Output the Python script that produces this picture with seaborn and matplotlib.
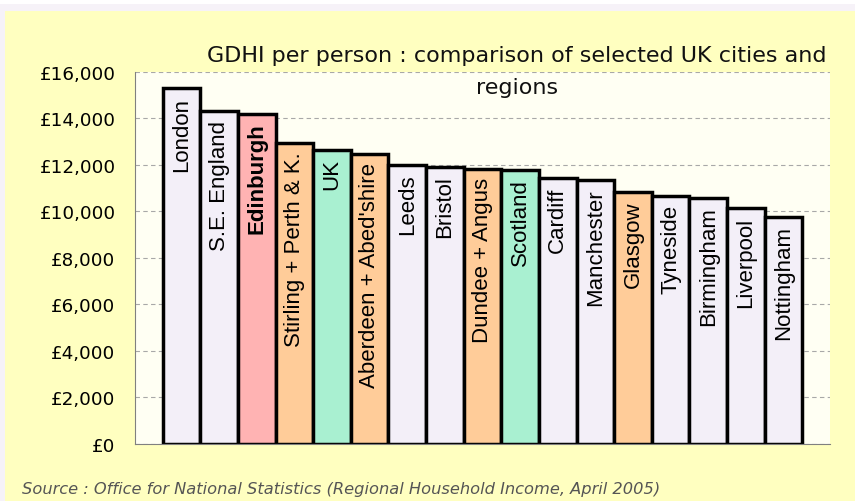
import matplotlib
matplotlib.use("Agg")
import matplotlib.pyplot as plt
import matplotlib.patches as mpatches
import seaborn as sns

# GDHI per person, UK cities and regions
cities = ["London", "S.E. England", "Edinburgh", "Stirling + Perth & K.", "UK",
          "Aberdeen + Abed'shire", "Leeds", "Bristol", "Dundee + Angus", "Scotland",
          "Cardiff", "Manchester", "Glasgow", "Tyneside", "Birmingham",
          "Liverpool", "Nottingham"]
gdhi = [15290, 14300, 14180, 12920, 12640, 12460, 12000, 11920, 11820, 11790,
        11420, 11350, 10820, 10670, 10560, 10130, 9770]
groups = ["other", "other", "edinburgh", "scottish", "national",
          "scottish", "other", "other", "scottish", "national",
          "other", "other", "scottish", "other", "other",
          "other", "other"]
yticks = list(range(0, 16001, 2000))
ytick_labels = ["£0", "£2,000", "£4,000", "£6,000", "£8,000",
                "£10,000", "£12,000", "£14,000", "£16,000"]

group_colors = {"other": "#F3EFF8", "edinburgh": "#FFB3B3",
                "scottish": "#FFCC99", "national": "#A9F0D1"}

sns.set_theme(style="white")
plt.rcParams["font.family"] = ["DejaVu Sans"]

fig = plt.figure(figsize=(8.55, 5.02), dpi=100, facecolor="#F6F2F8")
# yellow chart frame + white strip at the very top
fig.patches.append(mpatches.Rectangle((5 / 855, 0), 1, 1 - 12 / 502,
                                      transform=fig.transFigure,
                                      facecolor="#FFFFC0", edgecolor="none", zorder=-10))
fig.patches.append(mpatches.Rectangle((0, 1 - 5 / 502), 1, 5 / 502,
                                      transform=fig.transFigure,
                                      facecolor="white", edgecolor="none", zorder=-10))

ax = fig.add_axes([135 / 855, 57 / 502, 695 / 855, 372.3 / 502])
ax.set_facecolor("#FFFFF3")

palette = [group_colors[g] for g in groups]
sns.barplot(x=cities, y=gdhi, hue=cities, palette=palette, legend=False,
            width=1.0, edgecolor="black", linewidth=2.5, saturation=1, ax=ax)

for bar, name in zip(ax.patches, cities):
    ax.annotate(name, (bar.get_x() + bar.get_width() / 2, bar.get_height()),
                xytext=(0, -6), textcoords="offset points",
                rotation=90, ha="center", va="top", fontsize=16,
                family="Liberation Sans",
                fontweight="bold" if name == "Edinburgh" else "normal",
                color="black", zorder=5)

ax.set_ylim(0, 16000)
ax.set_xlim(-1.24, 17.24)
ax.set_yticks(yticks)
ax.set_yticklabels(ytick_labels, fontsize=13.2, color="black")
ax.set_xticks([-1.24, 17.24])
ax.set_xticklabels([])
ax.yaxis.grid(True, linestyle=(0, (4, 3)), color="#A8A8A8", linewidth=0.8)
ax.set_axisbelow(True)
ax.tick_params(axis="y", direction="out", length=5, width=0.8, color="#808080", pad=9)
ax.tick_params(axis="x", direction="out", length=5, width=0.8, color="#808080")
for side in ["top", "right"]:
    ax.spines[side].set_visible(False)
for side in ["left", "bottom"]:
    ax.spines[side].set_color("#808080")
    ax.spines[side].set_linewidth(0.8)

fig.text(517 / 855, 1 - 72 / 502,
         "GDHI per person : comparison of selected UK cities and\nregions",
         ha="center", va="center", fontsize=16, color="#111111", linespacing=1.7,
         zorder=6)
fig.text(22 / 855, 1 - 490 / 502,
         "Source : Office for National Statistics (Regional Household Income, April 2005)",
         ha="left", va="center", fontsize=11.7, style="italic", color="#555555")

fig.savefig("out.png", dpi=100, facecolor=fig.get_facecolor())
